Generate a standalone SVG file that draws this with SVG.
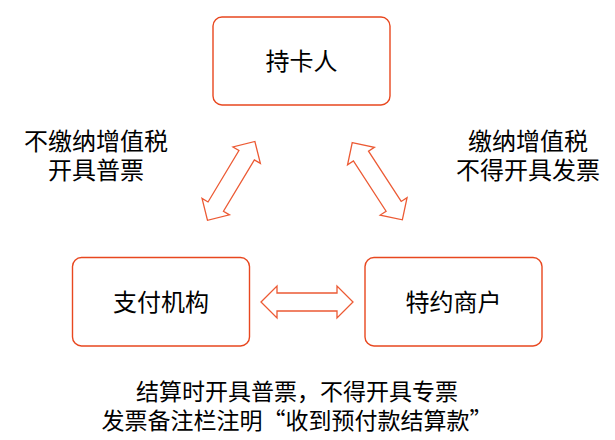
<svg xmlns="http://www.w3.org/2000/svg" width="615" height="440" viewBox="0 0 615 440">
<style>
.box{fill:#ffffff;stroke:#E8471F;stroke-width:1.4}
.arr{fill:#ffffff;stroke:#EC5A34;stroke-width:1.3;stroke-linejoin:miter}
text{font-family:"Noto Sans CJK SC","Noto Sans",sans-serif;fill:#000;text-anchor:middle}
.t{font-size:24px}
.b{font-size:23px;font-feature-settings:"fwid"}
</style>
<defs>
<path id="dbl" d="M-46,0 L-30,-16 L-30,-9 L30,-9 L30,-16 L46,0 L30,16 L30,9 L-30,9 L-30,16 Z"/>
</defs>
<rect width="615" height="440" fill="#ffffff"/>
<g id="connectors">
<use href="#dbl" class="arr" transform="translate(307,302)"/>
<use href="#dbl" class="arr" transform="translate(231.2,180.9) rotate(-59)"/>
<use href="#dbl" class="arr" transform="translate(377.3,181.2) rotate(57)"/>
</g>
<g id="cardholder">
<rect class="box" x="213" y="17" width="177" height="88" rx="9"/>
<text class="t" x="301.5" y="70">持卡人</text>
</g>
<g id="payment-institution">
<rect class="box" x="72.5" y="257.5" width="177" height="88.5" rx="9"/>
<text class="t" x="161" y="311">支付机构</text>
</g>
<g id="merchant">
<rect class="box" x="365" y="257.5" width="177" height="88.5" rx="9"/>
<text class="t" x="453.5" y="311">特约商户</text>
</g>
<g id="label-left">
<text class="t" x="96" y="149.5">不缴纳增值税</text>
<text class="t" x="96" y="178.5">开具普票</text>
</g>
<g id="label-right">
<text class="t" x="528" y="149.5">缴纳增值税</text>
<text class="t" x="528" y="178.5">不得开具发票</text>
</g>
<g id="label-bottom">
<text class="b" x="297" y="400">结算时开具普票，不得开具专票</text>
<text class="b" x="297" y="428.5">发票备注栏注明“收到预付款结算款”</text>
</g>
</svg>
